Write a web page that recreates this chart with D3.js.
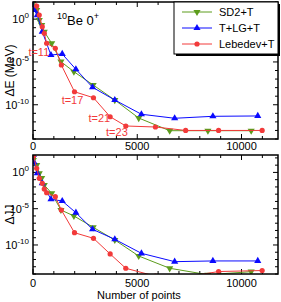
<!DOCTYPE html>
<html>
<head>
<meta charset="utf-8">
<script src="https://cdn.jsdelivr.net/npm/d3@7"></script>
<style>
  body { margin: 0; background: #fff; }
  text { font-family: "Liberation Sans", Arial, sans-serif; }
</style>
</head>
<body>
<svg id="chart" width="281" height="302"></svg>
<script>
// data (y values are log10)
var seriesNames = ["SD2+T", "T+LG+T", "Lebedev+T"];
var seriesColors = ["#5c9c1c", "#0a0aff", "#f23a3a"];

var sd2X = [15, 177, 300, 416, 540, 895, 1340, 1962, 2885, 3923, 5070, 6555, 8388, 10464];
var sd2E = [2.0, 1.07, -0.10, -0.69, -1.47, -2.82, -4.97, -6.14, -7.69, -9.45, -11.55, -13.03, -13.03, -13.03];
var sd2J = [1.71, 1.0, -0.12, -0.77, -1.73, -2.88, -5.18, -6.0, -7.56, -9.31, -11.52, -13.21, -14.1, -13.68];

var lgX = [15, 48, 205, 445, 861, 1402, 2057, 2856, 3923, 5200, 6794, 8627, 10780];
var lgE = [2.3, 1.07, 0.46, -1.47, -4.19, -4.07, -5.86, -7.96, -9.45, -11.11, -11.58, -11.35, -11.31];
var lgJ = [2.4, 1.4, -0.12, -1.5, -3.7, -3.94, -5.55, -7.84, -9.22, -11.15, -12.3, -12.2, -12.2];

var lebX = [25, 177, 300, 445, 540, 655, 1070, 1360, 1990, 2900, 3700, 4450, 5871, 7321, 8900, 10990];
var lebE = [2.8, 1.53, 0.48, -0.885, -1.66, -2.82, -3.41, -5.36, -8.48, -9.18, -11.4, -12.48, -12.6, -13.0, -13.0, -13.0];
var lebJ = [2.26, 0.57, -0.81, -1.5, -2.3, -2.8, -3.35, -5.18, -8.31, -9.08, -11.24, -13.21, -14.3, -14.4, -13.66, -13.52];

// labels next to some Lebedev points: [index, text, dx, dy, anchor]
var tLabels = [[6, "t=11", -6, 8, "end"], [8, "t=17", -2, 12, "middle"],
               [10, "t=21", 0, 5, "end"], [11, "t=23", 2, 10, "end"]];

var xTicksMajor = [0, 5000, 10000];
var xTicksMinor = d3.range(0, 11001, 1000);
var yDecades = d3.range(-14, 3);
var yLabelled = [0, -5, -10];

var svg = d3.select("#chart");
var red = seriesColors[2];

var x = d3.scaleLinear().domain([0, 11750]).range([33, 278]);

var panels = [
  {top: 2, bottom: 139, ymax: 2, label: "\u0394E (MeV)",
   sets: [[sd2X, sd2E], [lgX, lgE], [lebX, lebE]], xlabY: 150},
  {top: 155, bottom: 274, ymax: 2.4, label: "\u0394JJ",
   sets: [[sd2X, sd2J], [lgX, lgJ], [lebX, lebJ]], xlabY: 287}
];

var tri = d3.symbol().type(d3.symbolTriangle).size(22);

panels.forEach(function(p, pi) {
  var y = d3.scaleLinear().domain([-14, p.ymax]).range([p.bottom, p.top]);
  var g = svg.append("g");
  var clipId = "clip" + pi;
  svg.append("clipPath").attr("id", clipId).append("rect")
    .attr("x", x.range()[0]).attr("y", p.top)
    .attr("width", x.range()[1] - x.range()[0]).attr("height", p.bottom - p.top);

  // ticks, inward on all four sides
  var ticks = g.append("g").attr("stroke", "#000").attr("stroke-width", 1);
  xTicksMinor.forEach(function(v) {
    var len = xTicksMajor.indexOf(v) >= 0 ? 5 : 3;
    ticks.append("line").attr("x1", x(v)).attr("x2", x(v)).attr("y1", p.bottom).attr("y2", p.bottom - len);
    ticks.append("line").attr("x1", x(v)).attr("x2", x(v)).attr("y1", p.top).attr("y2", p.top + len);
  });
  yDecades.forEach(function(v) {
    if (y(v) < p.top || y(v) > p.bottom) return;
    var len = yLabelled.indexOf(v) >= 0 ? 5 : 3;
    ticks.append("line").attr("x1", x.range()[0]).attr("x2", x.range()[0] + len).attr("y1", y(v)).attr("y2", y(v));
    ticks.append("line").attr("x1", x.range()[1]).attr("x2", x.range()[1] - len).attr("y1", y(v)).attr("y2", y(v));
  });

  // y tick labels 10^n
  yLabelled.forEach(function(v) {
    var t = g.append("text").attr("x", 29).attr("y", y(v) + 4)
      .attr("text-anchor", "end").attr("font-size", 11);
    t.append("tspan").text("10");
    t.append("tspan").attr("dy", -5).attr("font-size", 8).text(v === 0 ? "0" : String(v));
  });

  // x tick labels
  xTicksMajor.forEach(function(v) {
    g.append("text").attr("x", x(v)).attr("y", p.xlabY)
      .attr("text-anchor", "middle").attr("font-size", 11).text(v);
  });

  // y label
  g.append("text")
    .attr("transform", "translate(14," + ((p.top + p.bottom) / 2) + ") rotate(-90)")
    .attr("text-anchor", "middle").attr("font-size", 12).text(p.label);

  // series
  var plot = g.append("g").attr("clip-path", "url(#" + clipId + ")");
  p.sets.forEach(function(s, si) {
    var pts = s[0].map(function(xv, i) { return [x(xv), y(s[1][i])]; });
    plot.append("path")
      .attr("d", d3.line()(pts))
      .attr("fill", "none").attr("stroke", seriesColors[si]).attr("stroke-width", 1);
    pts.forEach(function(pt) {
      if (si === 2) {
        plot.append("circle").attr("cx", pt[0]).attr("cy", pt[1]).attr("r", 2.6)
          .attr("fill", seriesColors[si]);
      } else {
        plot.append("path").attr("d", tri)
          .attr("transform", "translate(" + pt[0] + "," + pt[1] + ")" + (si === 0 ? " rotate(180)" : ""))
          .attr("fill", seriesColors[si]);
      }
    });
  });

  // frame
  g.append("rect").attr("x", x.range()[0]).attr("y", p.top)
    .attr("width", x.range()[1] - x.range()[0]).attr("height", p.bottom - p.top)
    .attr("fill", "none").attr("stroke", "#000").attr("stroke-width", 1.5);

  if (pi === 0) {
    // t= labels
    tLabels.forEach(function(l) {
      g.append("text").attr("x", x(lebX[l[0]]) + l[2]).attr("y", y(lebE[l[0]]) + l[3])
        .attr("text-anchor", l[4]).attr("font-size", 11).attr("fill", red).text(l[1]);
    });

    // title 10Be 0+
    var title = g.append("text").attr("x", 57).attr("y", 25).attr("font-size", 13);
    title.append("tspan").attr("font-size", 9).attr("dy", -6).text("10");
    title.append("tspan").attr("dy", 6).text("Be  0");
    title.append("tspan").attr("font-size", 9).attr("dy", -6).text("+");

    // legend with shadow
    var lg = g.append("g");
    lg.append("rect").attr("x", 176).attr("y", 4).attr("width", 104).attr("height", 52).attr("fill", "#000");
    lg.append("rect").attr("x", 174).attr("y", 2).attr("width", 104).attr("height", 52)
      .attr("fill", "#fff").attr("stroke", "#000").attr("stroke-width", 1);
    seriesNames.forEach(function(n, si) {
      var ly = 12 + si * 16;
      lg.append("line").attr("x1", 182).attr("x2", 212).attr("y1", ly).attr("y2", ly)
        .attr("stroke", seriesColors[si]).attr("stroke-width", 1);
      if (si === 2) {
        lg.append("circle").attr("cx", 197).attr("cy", ly).attr("r", 2.6).attr("fill", seriesColors[si]);
      } else {
        lg.append("path").attr("d", tri)
          .attr("transform", "translate(197," + ly + ")" + (si === 0 ? " rotate(180)" : ""))
          .attr("fill", seriesColors[si]);
      }
      lg.append("text").attr("x", 219).attr("y", ly + 4).attr("font-size", 11).text(n);
    });
  }
});

svg.append("text").attr("x", 139).attr("y", 299).attr("text-anchor", "middle")
  .attr("font-size", 11).text("Number of points");
</script>
</body>
</html>
